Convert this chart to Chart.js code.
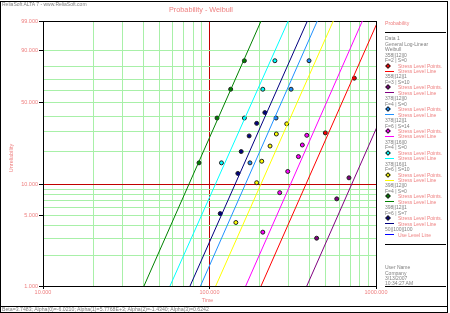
<!DOCTYPE html>
<html><head><meta charset="utf-8">
<script src="https://cdn.jsdelivr.net/npm/chart.js@4.4.1/dist/chart.umd.min.js"></script>
<style>
html,body{margin:0;padding:0;background:#fff;width:450px;height:313px;overflow:hidden;font-family:"Liberation Sans",Arial,sans-serif;}
#wrap{position:relative;width:450px;height:313px;}
canvas{position:absolute;left:0;top:0;}
.t{position:absolute;white-space:nowrap;line-height:1;}
.hl{position:absolute;height:1px;background:#000;}
.vl{position:absolute;width:1px;background:#000;}
</style></head>
<body><div id="wrap"><canvas id="c" width="450" height="313"></canvas></div>
<script>
// ---------- data ----------
const yGridPct = [1,2,3,4,5,6,7,8,9,10,20,30,40,50,60,70,80,90,99];
const yLabelPct = [1,5,10,50,90,99];
const xGridTimes = [10,20,30,40,50,60,70,80,90,100,200,300,400,500,600,700,800,900,1000];
const xLabelTimes = [10,100,1000];

const stressLevels = ['358||12||0','358||12||1','378||12||0','378||12||1','378||16||0','378||16||1','398||12||0','398||12||1'];
const stressCounts = ['F=2 | S=0','F=3 | S=10','F=4 | S=0','F=6 | S=14','F=4 | S=0','F=6 | S=10','F=4 | S=0','F=6 | S=7'];

const times_358_12_0 = [496, 741];
const unrel_358_12_0 = [29.29, 70.71];
const times_358_12_1 = [440, 581, 688];
const unrel_358_12_1 = [2.99, 7.26, 11.54];
const times_378_12_0 = [175, 251, 309, 396];
const unrel_378_12_0 = [15.91, 38.64, 61.36, 84.09];
const times_378_12_1 = [209, 264, 295, 342, 361, 384];
const unrel_378_12_1 = [3.43, 8.33, 13.24, 18.14, 23.04, 27.94];
const times_378_16_0 = [118, 162, 209, 247];
const unrel_378_16_0 = [15.91, 38.64, 61.36, 84.09];
const times_378_16_1 = [144, 192, 206, 231, 252, 291];
const unrel_378_16_1 = [4.27, 10.37, 16.46, 22.56, 28.66, 34.76];
const times_398_12_0 = [86.5, 111, 134, 162];
const unrel_398_12_0 = [15.91, 38.64, 61.36, 84.09];
const times_398_12_1 = [116, 148, 155, 173, 192, 215];
const unrel_398_12_1 = [5.22, 12.69, 20.15, 27.61, 35.07, 42.54];

// fitted stress-level lines: time at 1% and at 99% unreliability (same order as stressLevels)
const lineTimeAt1  = [204, 384, 88.3, 165, 57.9, 109, 40.4, 76.4];
const lineTimeAt99 = [1028, 1934, 444, 828, 297, 554, 204, 387];
const lineUnrelEnds = [1, 99];

const headerText = 'ReliaSoft ALTA 7 - www.ReliaSoft.com';
const titleText = 'Probability - Weibull';
const footerText = 'Beta=3.7483; Alpha(0)=-6.0210; Alpha(1)=5.7768E+3; Alpha(2)=-1.4340; Alpha(3)=0.6242';
const userInfo = ['User Name','Company','3/13/2007','10:34:27 AM'];

// ---------- styles ----------
const levelColors = ['#ff0000','#800080','#1e90ff','#ff00ff','#00ffff','#ffff00','#008000','#000080'];
const PINK = '#ee8080', GRAY = '#808080', GREEN = '#a8f0a8', RED = '#c00000';
const FONT = '"Liberation Sans", Arial, sans-serif';

const pointTimes = [times_358_12_0,times_358_12_1,times_378_12_0,times_378_12_1,times_378_16_0,times_378_16_1,times_398_12_0,times_398_12_1];
const pointUnrel = [unrel_358_12_0,unrel_358_12_1,unrel_378_12_0,unrel_378_12_1,unrel_378_16_0,unrel_378_16_1,unrel_398_12_0,unrel_398_12_1];

const w = p => Math.log(-Math.log(1 - p / 100));

const datasets = [];
stressLevels.forEach((lv, i) => {
  datasets.push({
    label: lv + ' line', showLine: true, pointRadius: 0, borderWidth: 1,
    borderColor: levelColors[i], backgroundColor: levelColors[i],
    data: [{x: lineTimeAt1[i], y: w(lineUnrelEnds[0])}, {x: lineTimeAt99[i], y: w(lineUnrelEnds[1])}]
  });
});
stressLevels.forEach((lv, i) => {
  datasets.push({
    label: lv + ' points', showLine: false, pointRadius: 2, pointBorderWidth: 1,
    pointBorderColor: '#202020', pointBackgroundColor: levelColors[i],
    data: pointTimes[i].map((t, j) => ({x: t, y: w(pointUnrel[i][j])}))
  });
});

new Chart(document.getElementById('c'), {
  type: 'scatter',
  data: {datasets},
  options: {
    responsive: false, animation: false, devicePixelRatio: 1,
    layout: {padding: {left: 0, top: 21, right: 74, bottom: 0}},
    plugins: {legend: {display: false}, tooltip: {enabled: false}},
    scales: {
      x: {
        type: 'logarithmic', min: 10, max: 1000,
        afterBuildTicks: s => { s.ticks = xGridTimes.map(v => ({value: v})); },
        afterFit: s => { s.height = 27; },
        ticks: {autoSkip: false, maxRotation: 0, color: PINK, padding: 0,
          font: {family: FONT, size: 5.5},
          callback: v => xLabelTimes.includes(v) ? v.toFixed(3) : ''},
        grid: {lineWidth: 1, tickLength: 3,
          color: c => c.tick.value === 1000 ? '#000' : (c.tick.value === 100 ? RED : GREEN),
          tickColor: c => xLabelTimes.includes(c.tick.value) ? '#000' : 'rgba(0,0,0,0)'},
        border: {color: '#000', width: 1}
      },
      y: {
        type: 'linear', min: w(1), max: w(99),
        afterBuildTicks: s => { s.ticks = yGridPct.map(p => ({value: w(p)})); },
        afterFit: s => { s.width = 43; },
        ticks: {autoSkip: false, color: PINK, padding: 1,
          font: {family: FONT, size: 5.5},
          callback: (v, i) => yLabelPct.includes(yGridPct[i]) ? yGridPct[i].toFixed(3) : ''},
        grid: {lineWidth: 1, tickLength: 4,
          color: c => yGridPct[c.index] === 99 ? '#000' : (yGridPct[c.index] === 10 ? RED : GREEN),
          tickColor: c => yLabelPct.includes(yGridPct[c.index]) ? '#000' : 'rgba(0,0,0,0)'},
        border: {color: '#000', width: 1}
      }
    }
  }
});

// ---------- surrounding text / frame ----------
const wrap = document.getElementById('wrap');
function txt(s, x, yc, size, color, align, rot) {
  const d = document.createElement('div');
  d.className = 't';
  d.textContent = s;
  d.style.fontSize = size + 'px';
  d.style.color = color;
  d.style.left = x + 'px';
  d.style.top = yc + 'px';
  let tx = align === 'center' ? '-50%' : (align === 'right' ? '-100%' : '0');
  d.style.transform = 'translate(' + tx + ',-50%)' + (rot ? ' rotate(' + rot + 'deg)' : '');
  wrap.appendChild(d);
  return d;
}
function hline(x1, x2, y, color) {
  const d = document.createElement('div'); d.className = 'hl';
  d.style.left = x1 + 'px'; d.style.width = (x2 - x1) + 'px'; d.style.top = y + 'px';
  if (color) d.style.background = color;
  wrap.appendChild(d);
}
function vline(x, y1, y2) {
  const d = document.createElement('div'); d.className = 'vl';
  d.style.left = x + 'px'; d.style.top = y1 + 'px'; d.style.height = (y2 - y1) + 'px';
  wrap.appendChild(d);
}
// frame
hline(0, 448, 1); vline(0, 1, 313); vline(447, 1, 313); hline(0, 448, 306); hline(0, 448, 312);

txt(headerText, 2, 3.5, 5, GRAY, 'left');
txt(titleText, 201, 10, 7.25, PINK, 'center');
txt(footerText, 2, 309.5, 5.2, GRAY, 'left');
txt('Time', 207.5, 301, 5.3, PINK, 'center');
const yt = txt('Unreliability', 12, 157.5, 5.5, PINK, 'center');
yt.style.transform = 'translate(-50%,-50%) rotate(-90deg)';

// legend panel
txt('Probability', 385, 24, 5.2, PINK, 'left');
hline(385, 446, 32);
const step = 5.45, y0 = 38.3;
let k = 0;
const row = () => y0 + step * (k++);
txt('Data 1', 385, row(), 5, GRAY, 'left');
txt('General Log-Linear', 385, row(), 5, GRAY, 'left');
txt('Weibull', 385, row(), 5, GRAY, 'left');
stressLevels.forEach((lv, i) => {
  txt(lv, 385, row(), 5, GRAY, 'left');
  txt(stressCounts[i], 385, row(), 5, GRAY, 'left');
  let y = row();
  const m = document.createElement('div');
  m.style.cssText = 'position:absolute;width:2px;height:2px;border:1px solid #202020;transform:rotate(45deg);';
  m.style.background = levelColors[i];
  m.style.left = '386px'; m.style.top = (y - 2) + 'px';
  wrap.appendChild(m);
  txt('Stress Level Points.', 398, y, 5, PINK, 'left');
  y = row();
  hline(385, 394, Math.round(y - 0.5), levelColors[i]);
  txt('Stress Level Line', 398, y, 5, PINK, 'left');
});
txt('50||100||100', 385, row(), 5, GRAY, 'left');
let yu = row();
hline(385, 394, Math.round(yu - 0.5), '#0000ff');
txt('Use Level Line', 398, yu, 5, PINK, 'left');
hline(385, 446, 244);
[267.3, 272.6, 277.8, 283].forEach((y, i) => txt(userInfo[i], 385, y, 5, GRAY, 'left'));
hline(385, 446, 286);
</script>
</body></html>
